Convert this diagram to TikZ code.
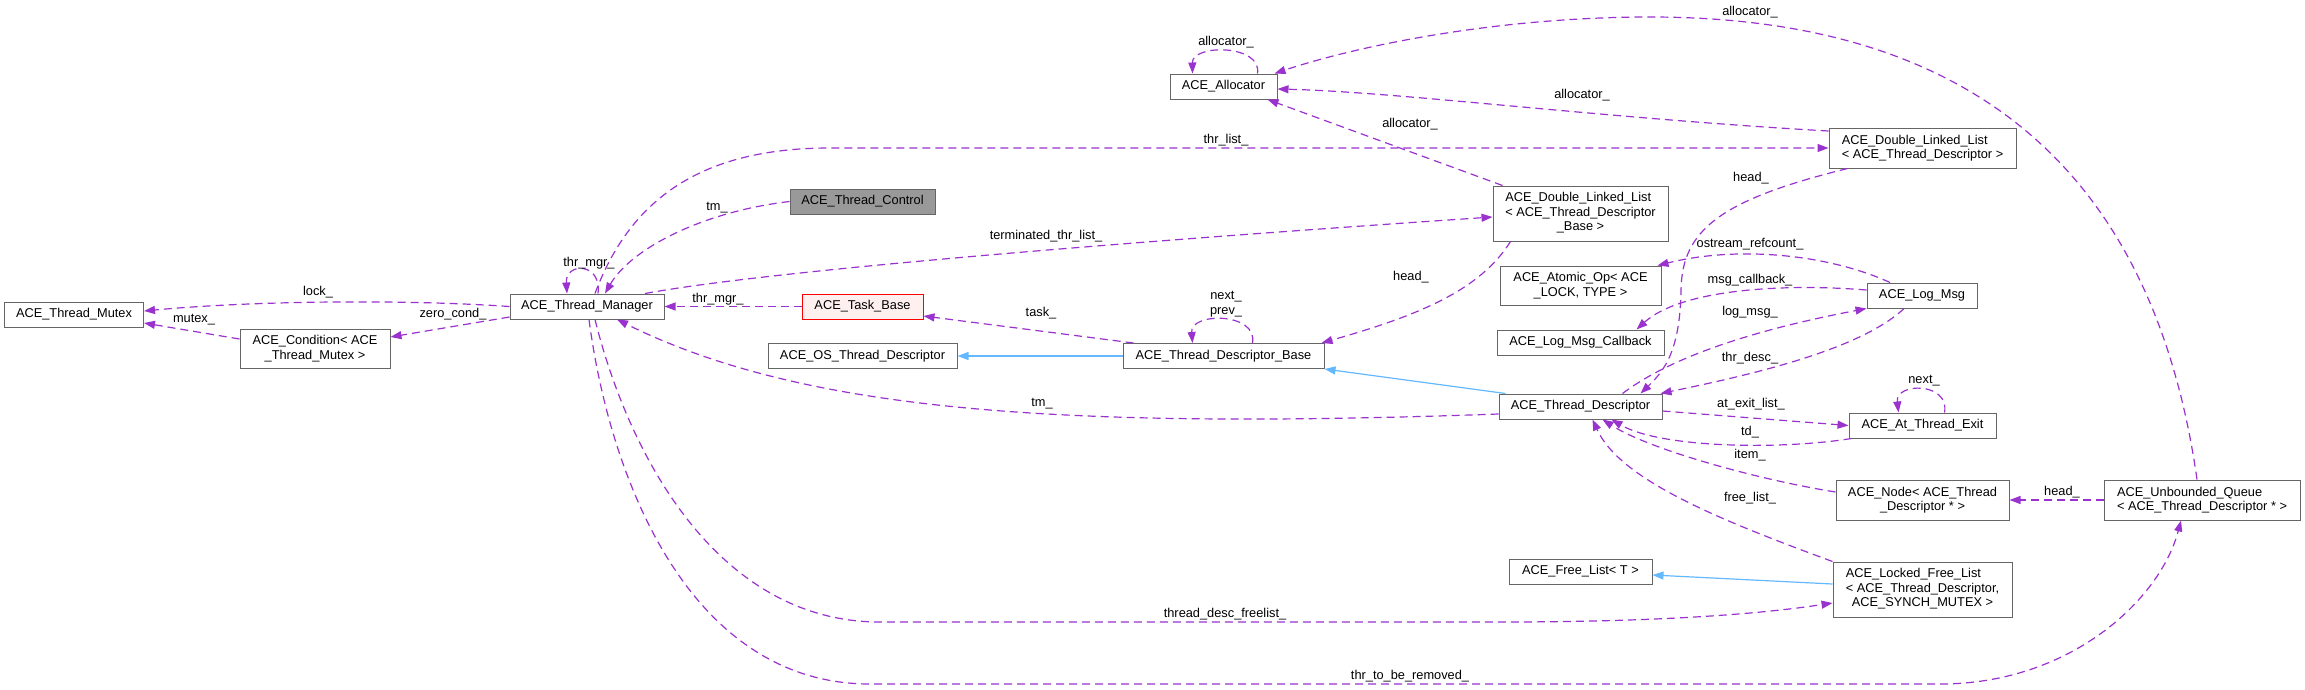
\documentclass[tikz,border=0pt]{standalone}
\usepackage{fontspec}
\setmainfont{Liberation Sans}
\usetikzlibrary{arrows.meta}
\definecolor{refpurple}{HTML}{9A32CD}
\definecolor{inhblue}{HTML}{63B8FF}
\definecolor{boxgray}{HTML}{666666}
\definecolor{focusgray}{HTML}{999999}
\definecolor{pinkfill}{HTML}{FFF0F0}
\begin{document}
\begin{tikzpicture}[x=1pt,y=-1pt,
  cls/.style={draw=boxgray, fill=white, line width=1pt, inner sep=0pt, minimum height=25pt, font=\fontsize{12.8}{14.5}\selectfont},
  focus/.style={cls, fill=focusgray},
  redcls/.style={cls, draw=red, fill=pinkfill},
  ref/.style={draw=refpurple, line width=1.2pt, dash pattern=on 8pt off 5pt, -{Triangle[length=11pt,width=8pt]}},
  inh/.style={draw=inhblue, line width=1.2pt, -{Triangle[length=11pt,width=8pt]}},
  lbl/.style={inner sep=0pt, font=\fontsize{12.8}{14.5}\selectfont}]
  \useasboundingbox (0,0) rectangle (2305,689);

  \draw (74,314.5) node[cls, minimum width=139] (mutex) {ACE\_Thread\_Mutex};
  \draw (315,348.5) node[cls, minimum width=150, minimum height=39, align=center] (cond) {ACE\_Condition< ACE\\\_Thread\_Mutex >};
  \draw (587,306.5) node[cls, minimum width=154] (mgr) {ACE\_Thread\_Manager};
  \draw (862.5,201.5) node[focus, minimum width=145] (ctrl) {ACE\_Thread\_Control};
  \draw (862.5,306.5) node[redcls, minimum width=121] (task) {ACE\_Task\_Base};
  \draw (862.5,356) node[cls, minimum width=189] (osdesc) {ACE\_OS\_Thread\_Descriptor};
  \draw (1223.5,86.5) node[cls, minimum width=107] (alloc) {ACE\_Allocator};
  \draw (1223.5,356) node[cls, minimum width=201] (tdbase) {ACE\_Thread\_Descriptor\_Base};
  \draw (1580.5,213.5) node[cls, minimum width=175, minimum height=55] (dllbase) {\begin{tabular}{@{}l@{}}ACE\_Double\_Linked\_List\\< ACE\_Thread\_Descriptor\\\multicolumn{1}{@{}c@{}}{\_Base >}\end{tabular}};
  \draw (1580.5,285.5) node[cls, minimum width=161, minimum height=39, align=center] (atomic) {ACE\_Atomic\_Op< ACE\\\_LOCK, TYPE >};
  \draw (1580.5,342.5) node[cls, minimum width=167] (cb) {ACE\_Log\_Msg\_Callback};
  \draw (1580.5,406.5) node[cls, minimum width=163] (td) {ACE\_Thread\_Descriptor};
  \draw (1580.5,571.5) node[cls, minimum width=143] (freel) {ACE\_Free\_List< T >};
  \draw (1922.5,148) node[cls, minimum width=187, minimum height=40, align=left] (dlltd) {ACE\_Double\_Linked\_List\\< ACE\_Thread\_Descriptor >};
  \draw (1922,295.5) node[cls, minimum width=110] (logmsg) {ACE\_Log\_Msg};
  \draw (1922.5,425.5) node[cls, minimum width=147] (atexit) {ACE\_At\_Thread\_Exit};
  \draw (1922.5,500) node[cls, minimum width=173, minimum height=40, align=center] (anode) {ACE\_Node< ACE\_Thread\\\_Descriptor * >};
  \draw (1922.5,589.5) node[cls, minimum width=179, minimum height=55] (locked) {\begin{tabular}{@{}l@{}}ACE\_Locked\_Free\_List\\< ACE\_Thread\_Descriptor,\\\multicolumn{1}{@{}c@{}}{ACE\_SYNCH\_MUTEX >}\end{tabular}};
  \draw (2202,500) node[cls, minimum width=196, minimum height=40, align=left] (queue) {ACE\_Unbounded\_Queue\\< ACE\_Thread\_Descriptor * >};

  % members of ACE_Thread_Manager
  \draw[ref] (mgr.west) .. controls (400,299) and (250,301) .. ([yshift=3.5]mutex.east) node[lbl] at (318,292) {lock\_};
  \draw[ref] ([yshift=9.5]cond.west) -- ([yshift=-8.5]mutex.east) node[lbl] at (194,320) {mutex\_};
  \draw[ref] ([yshift=-10.5]mgr.west) -- ([yshift=11.5]cond.east) node[lbl] at (453,314) {zero\_cond\_};
  \draw[ref] ([xshift=11]mgr.north) .. controls (602,262) and (565,262) .. ([xshift=-20]mgr.north) node[lbl] at (589,263) {thr\_mgr\_};
  \draw[ref] (ctrl.west) .. controls (700,212) and (630,250) .. ([xshift=18]mgr.north) node[lbl] at (717,208) {tm\_};
  \draw[ref] (task.west) -- (mgr.east) node[lbl] at (718,299) {thr\_mgr\_};
  \draw[ref] ([xshift=58]mgr.north) .. controls (800,265) and (1300,230) .. ([yshift=-3.5]dllbase.west) node[lbl] at (1046,236) {terminated\_thr\_list\_};
  \draw[ref] ([xshift=8]mgr.north) .. controls (630,200) and (700,148) .. (830,148) -- (dlltd.west) node[lbl] at (1226,140) {thr\_list\_};
  \draw[ref] ([yshift=-7.5]td.west) .. controls (1050,430) and (800,410) .. ([xshift=30]mgr.south) node[lbl] at (1042,404) {tm\_};
  \draw[ref] ([xshift=8]mgr.south) .. controls (630,460) and (720,622) .. (880,622) -- (1500,622) .. controls (1660,622) and (1760,614) .. ([yshift=-13.5]locked.west) node[lbl] at (1225,614) {thread\_desc\_freelist\_};
  \draw[ref] ([xshift=2]mgr.south) .. controls (610,480) and (690,684) .. (870,684) -- (1940,684) .. controls (2070,684) and (2160,600) .. ([xshift=-21]queue.south) node[lbl] at (1410,676) {thr\_to\_be\_removed\_};

  % allocators
  \draw[ref] ([xshift=-78]dllbase.north) -- ([xshift=44]alloc.south) node[lbl] at (1410,124) {allocator\_};
  \draw[ref] ([yshift=17]dlltd.west) .. controls (1600,118) and (1400,92) .. ([yshift=-2.5]alloc.east) node[lbl] at (1582,95) {allocator\_};
  \draw[ref] ([xshift=34]alloc.north) .. controls (1262,44) and (1192,44) .. ([xshift=-31]alloc.north) node[lbl] at (1226,42) {allocator\_};
  \draw[ref] ([xshift=-5]queue.north) .. controls (2150,150) and (1950,17) .. (1650,17) .. controls (1500,17) and (1360,45) .. ([xshift=-3]alloc.north east) node[lbl] at (1750,12) {allocator\_};

  % descriptors
  \draw[ref] ([xshift=-75]dlltd.south) .. controls (1720,200) and (1682,230) .. (1681,290) .. controls (1680,350) and (1665,370) .. ([xshift=60]td.north) node[lbl] at (1751,178) {head\_};
  \draw[ref] ([xshift=-70]dllbase.south) .. controls (1480,290) and (1420,315) .. ([xshift=-3]tdbase.north east) node[lbl] at (1411,277) {head\_};
  \draw[ref] ([xshift=29]tdbase.north) .. controls (1258,312) and (1190,312) .. ([xshift=-31]tdbase.north) node[lbl, align=center] at (1226,304) {next\_\\prev\_};
  \draw[ref] ([xshift=-90]tdbase.north) -- ([yshift=-9.5]task.east) node[lbl] at (1041,313) {task\_};
  \draw[inh] (tdbase.west) -- (osdesc.east);
  \draw[inh] ([xshift=-75]td.north) -- (tdbase.south east);

  % log messages
  \draw[ref] ([xshift=-32]logmsg.north) .. controls (1830,255) and (1740,245) .. ([xshift=-4]atomic.north east) node[lbl] at (1750,244) {ostream\_refcount\_};
  \draw[ref] ([yshift=5.5]logmsg.west) .. controls (1780,283) and (1680,290) .. ([xshift=56]cb.north) node[lbl] at (1750,280) {msg\_callback\_};
  \draw[ref] ([xshift=42]td.north) .. controls (1680,350) and (1780,325) .. (logmsg.south west) node[lbl] at (1750,312) {log\_msg\_};
  \draw[ref] ([xshift=-18]logmsg.south) .. controls (1860,350) and (1750,375) .. ([xshift=-2]td.north east) node[lbl] at (1750,358) {thr\_desc\_};

  % exit hooks, nodes and free lists
  \draw[ref] ([yshift=-4.5]td.east) -- (atexit.west) node[lbl] at (1751,404) {at\_exit\_list\_};
  \draw[ref] ([xshift=3]atexit.south west) .. controls (1780,450) and (1660,448) .. ([xshift=31]td.south) node[lbl] at (1750,432) {td\_};
  \draw[ref] ([xshift=22]atexit.north) .. controls (1950,382) and (1895,382) .. ([xshift=-24]atexit.north) node[lbl] at (1924,381) {next\_};
  \draw[ref] ([yshift=8]anode.west) .. controls (1760,480) and (1650,450) .. ([xshift=22]td.south) node[lbl] at (1750,455) {item\_};
  \draw[ref] (locked.north west) .. controls (1720,520) and (1620,480) .. ([xshift=12]td.south) node[lbl] at (1750,498) {free\_list\_};
  \draw[ref] (queue.west) -- (anode.east) node[lbl] at (2062,492) {head\_};
  \draw[inh] ([yshift=5.5]locked.west) -- ([yshift=-3.5]freel.east);
\end{tikzpicture}
\end{document}
